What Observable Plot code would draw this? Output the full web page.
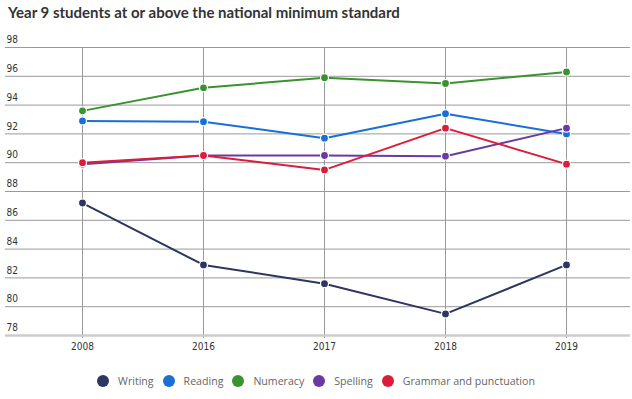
<!DOCTYPE html>
<html>
<head>
<meta charset="utf-8">
<script src="https://cdn.jsdelivr.net/npm/d3@7"></script>
<script src="https://cdn.jsdelivr.net/npm/@observablehq/plot@0.6"></script>
<style>
  html, body { margin: 0; padding: 0; background: #fff; }
  #title { height: 25px; line-height: 25px; padding-left: 8px; font-family: Lato, "Open Sans", sans-serif; font-weight: 700; font-size: 15px; color: #333; white-space: nowrap; }
  #chart svg { display: block; }
  #legend { display: flex; justify-content: center; align-items: center; margin-top: 14px; height: 14px; font-family: "Open Sans", sans-serif; font-size: 10.6px; color: #666; }
  .item { display: flex; align-items: center; margin: 0 4.5px; }
  .sw { width: 12px; height: 12px; border-radius: 50%; margin-right: 9px; }
</style>
</head>
<body>
<div id="title">Year 9 students at or above the national minimum standard</div>
<div id="chart"></div>
<div id="legend"></div>
<script>
const years = ["2008", "2016", "2017", "2018", "2019"];
const seriesNames = ["Writing", "Reading", "Numeracy", "Spelling", "Grammar and punctuation"];
const seriesColors = ["#2d3561", "#1a6fd4", "#3a9230", "#6b3aa0", "#dc1c3b"];
const writing  = [87.2, 82.9, 81.6, 79.5, 82.9];
const reading  = [92.9, 92.85, 91.7, 93.4, 92.0];
const numeracy = [93.6, 95.2, 95.9, 95.5, 96.3];
const spelling = [89.9, 90.5, 90.5, 90.45, 92.4];
const grammar  = [90.0, 90.5, 89.5, 92.4, 89.9];
const yTicks = [78, 80, 82, 84, 86, 88, 90, 92, 94, 96, 98];

const seriesValues = [writing, reading, numeracy, spelling, grammar];
const rows = [];
seriesNames.forEach((name, i) => {
  years.forEach((yr, j) => rows.push({series: name, year: yr, value: seriesValues[i][j]}));
});

const tickFont = {fontFamily: "'DejaVu Sans Condensed', 'Liberation Sans', sans-serif", fontSize: 10, fill: "#333"};

const chart = Plot.plot({
  width: 632,
  height: 335,
  marginTop: 22,
  marginBottom: 25,
  marginLeft: 5,
  marginRight: 2,
  style: {background: "#fff", overflow: "visible"},
  x: {type: "point", domain: years, range: [82, 566], padding: 0, axis: null},
  y: {domain: [78, 98], axis: null},
  color: {domain: seriesNames, range: seriesColors},
  marks: [
    Plot.ruleY(yTicks.filter(d => d !== 78), {y: d => d, stroke: "#999", strokeWidth: 1}),
    Plot.ruleX(years, {x: d => d, stroke: "#999", strokeWidth: 1, insetBottom: -3}),
    Plot.ruleY([78], {y: d => d, stroke: "#ccc", strokeWidth: 2.5}),
    Plot.text(yTicks, {y: d => d, text: d => String(d), frameAnchor: "left", textAnchor: "start", dx: 1, dy: -7.5, ...tickFont}),
    Plot.text(years, {x: d => d, text: d => d, frameAnchor: "bottom", dy: 14, ...tickFont}),
    Plot.line(rows, {x: "year", y: "value", z: "series", stroke: "series", strokeWidth: 2}),
    Plot.dot(rows, {x: "year", y: "value", fill: "series", r: 4, stroke: "#fff", strokeWidth: 1.2})
  ]
});
document.getElementById("chart").appendChild(chart);

const legend = document.getElementById("legend");
seriesNames.forEach((name, i) => {
  const item = document.createElement("div");
  item.className = "item";
  const sw = document.createElement("span");
  sw.className = "sw";
  sw.style.background = seriesColors[i];
  const label = document.createElement("span");
  label.textContent = name;
  item.appendChild(sw);
  item.appendChild(label);
  legend.appendChild(item);
});
</script>
</body>
</html>
